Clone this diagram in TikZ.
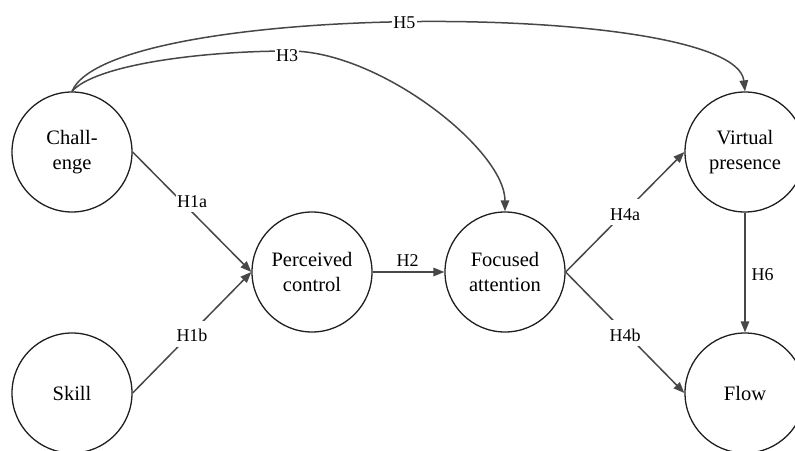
\documentclass[tikz,border=0pt]{standalone}
\usepackage{fontspec}
\setmainfont{Liberation Serif}
\usetikzlibrary{arrows.meta}
\begin{document}
\begin{tikzpicture}[x=1pt,y=-1pt,
  var/.style={circle,draw=black!88,line width=1.3pt,minimum size=120pt,inner sep=0pt,align=center,text=black,font=\fontsize{20.5}{25}\selectfont},
  rel/.style={draw=black!72,line width=1.5pt,-{Triangle[length=11pt,width=8.5pt,fill=black!72]}},
  lbl/.style={fill=white,inner xsep=1pt,inner ysep=1pt,text height=20pt,text depth=4pt,anchor=base,text=black,font=\fontsize{18}{20}\selectfont},
  clbl/.style={fill=white,inner xsep=1.2pt,inner ysep=1pt,text=black,font=\fontsize{18}{20}\selectfont}]
\useasboundingbox (0,0) rectangle (795,450);
\node[var] (ch) at (72,152) {Chall-\\enge};
\node[var] (sk) at (72,393) {Skill};
\node[var] (pc) at (312,272) {Perceived\\control};
\node[var] (fa) at (505,272) {Focused\\attention};
\node[var] (vp) at (745,152) {Virtual\\presence};
\node[var] (fl) at (745,393) {Flow};
\draw[rel] (ch.east) -- (pc.west);
\draw[rel] (sk.east) -- (pc.west);
\draw[rel] (pc.east) -- (fa.west);
\draw[rel] (fa.east) -- (vp.west);
\draw[rel] (fa.east) -- (fl.west);
\draw[rel] (vp.south) -- (fl.north);
\draw[rel] (ch.north) .. controls (95,65) and (200,51) .. (290,51)
  .. controls (380,51) and (505,150) .. (fa.north);
\draw[rel] (ch.north) .. controls (110,0) and (735,0) .. node[clbl,pos=0.485] (l5) {H5} (vp.north);
\node[clbl] (l3) at (287,56) {H3};
\node[lbl] (l1a) at (192,207) {H1a};
\node[lbl] (l1b) at (192,341.5) {H1b};
\node[lbl] (l2) at (407.5,266) {H2};
\node[lbl] (l4a) at (625,220) {H4a};
\node[lbl] (l4b) at (625,341) {H4b};
\node[lbl] (l6) at (762.5,280) {H6};
\end{tikzpicture}
\end{document}
